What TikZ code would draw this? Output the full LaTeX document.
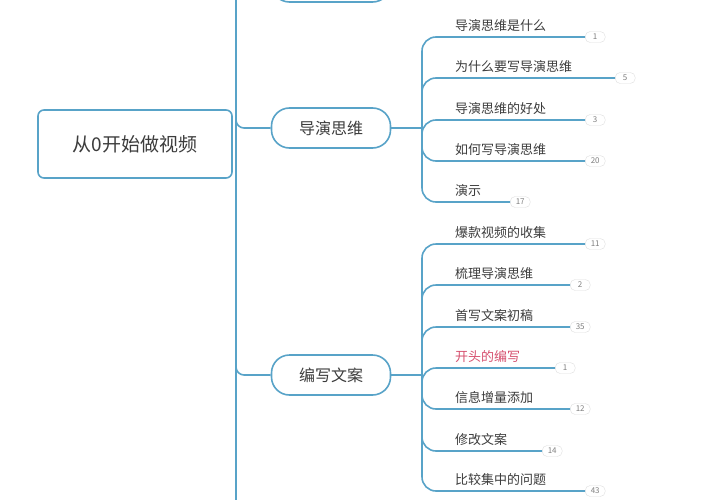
\documentclass[tikz,border=0pt]{standalone}
\usepackage{fontspec}
\setmainfont{Noto Sans CJK SC}
\begin{document}
\begin{tikzpicture}[x=1pt,y=-1pt,
  ln/.style={draw=lineblue,line width=1.6pt},
  topic/.style={draw=lineblue,line width=1.6pt,rounded corners=18pt,minimum width=119pt,minimum height=40pt,font=\fontsize{16}{18}\selectfont,text=txt,inner sep=0pt},
  child/.style={anchor=south west,font=\fontsize{13}{15}\selectfont,text=txt,inner sep=0pt},
  badge/.style={draw=gray!25,rounded corners=5pt,fill=white,font=\fontsize{8}{9}\selectfont,text=gray,minimum width=20pt,minimum height=11pt,inner sep=1pt,anchor=west}]
\definecolor{lineblue}{RGB}{88,163,200}
\definecolor{txt}{RGB}{60,60,60}
\definecolor{redtxt}{RGB}{214,80,110}
\useasboundingbox (0,0) rectangle (708,500);
\fill[white] (0,0) rectangle (708,500);
% main bus
\coordinate (bt) at (236,0);
\coordinate (bb) at (236,500);
\draw[ln] (bt) -- (bb);
% root
\node[draw=lineblue,line width=1.6pt,rounded corners=6pt,minimum width=194pt,minimum height=68pt,font=\fontsize{19}{22}\selectfont,text=txt] (root) at (135,144) {从0开始做视频};
% partial top box
\node[topic] (topbox) at (331,-18) {};
% topics
\node[topic] (t1) at (331,128) {导演思维};
\node[topic] (t2) at (331,375) {编写文案};
\draw[ln,rounded corners=8pt] (236,112) |- (t1.west);
\draw[ln,rounded corners=8pt] (236,359) |- (t2.west);
\coordinate (h1) at (422,128);
\coordinate (h2) at (422,375);
\draw[ln] (t1.east) -- (h1);
\draw[ln] (t2.east) -- (h2);
% children of t1
\foreach \y/\e/\n/\t [count=\i] in {37/585/1/导演思维是什么, 78/615/5/为什么要写导演思维, 120/585/3/导演思维的好处, 161/585/20/如何写导演思维, 202/510/17/演示}{
  \node[badge] (a\i) at (\e,\y) {\n};
  \node[child] (ca\i) at (455,\y-5) {\t};
  \draw[ln,rounded corners=14pt] (h1) |- (a\i.west);
}
% children of t2
\foreach \y/\e/\n/\t [count=\i] in {244/585/11/爆款视频的收集, 285/570/2/梳理导演思维, 327/570/35/首写文案初稿, 368/555/1/{\textcolor{redtxt}{开头的编写}}, 409/570/12/信息增量添加, 451/542/14/修改文案, 491/585/43/比较集中的问题}{
  \node[badge] (b\i) at (\e,\y) {\n};
  \node[child] (cb\i) at (455,\y-5) {\t};
  \draw[ln,rounded corners=14pt] (h2) |- (b\i.west);
}
\end{tikzpicture}
\end{document}
